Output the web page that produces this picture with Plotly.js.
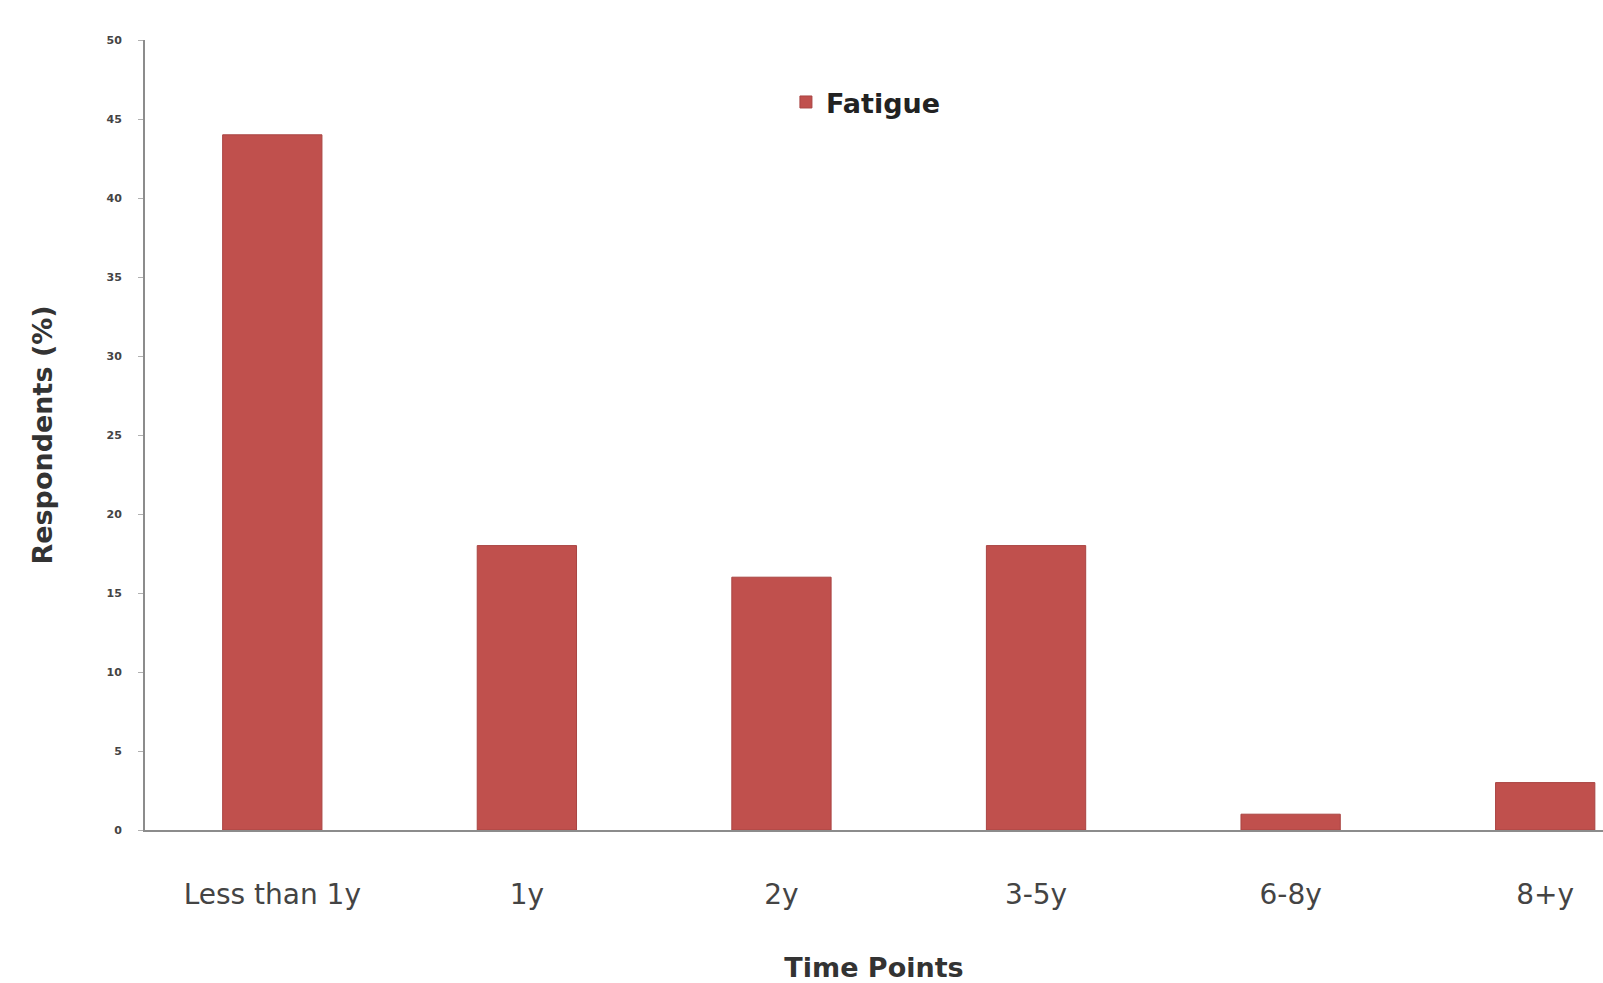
<!DOCTYPE html>
<html>
<head>
<meta charset="utf-8">
<script src="https://cdn.plot.ly/plotly-3.0.1.min.js"></script>
<style>
  html, body { margin: 0; padding: 0; background: #ffffff; }
  #chart { width: 1603px; height: 983px; }
</style>
</head>
<body>
<div id="chart"></div>
<script>
// Share of respondents reporting fatigue, by time point
const categories = ["Less than 1y", "1y", "2y", "3-5y", "6-8y", "8+y"];
const fatigue = [44, 18, 16, 18, 1, 3];
const yTicks = [0, 5, 10, 15, 20, 25, 30, 35, 40, 45, 50];

const barColor = "#C0504D";
const font = "'DejaVu Sans', 'Open Sans', sans-serif";

const traces = [{
  type: "bar",
  name: "Fatigue",
  x: categories,
  y: fatigue,
  width: 0.39,
  marker: { color: barColor, line: { color: "#A94442", width: 1 } },
  hoverinfo: "x+y"
}];

const layout = {
  width: 1603,
  height: 983,
  margin: { l: 145, r: 0, t: 40, b: 153 },
  paper_bgcolor: "#ffffff",
  plot_bgcolor: "#ffffff",
  font: { family: font, color: "#333333" },
  showlegend: true,
  legend: {
    x: 0.4396, y: 0.952, xanchor: "left", yanchor: "top",
    font: { family: font, size: 27, color: "#222222", weight: "bold" },
    bgcolor: "rgba(0,0,0,0)",
    itemwidth: 30
  },
  xaxis: {
    type: "category",
    range: [-0.5, 5.227],
    showline: true,
    linecolor: "#8c8c8c",
    linewidth: 2,
    showgrid: false,
    zeroline: false,
    ticks: "",
    ticklabelstandoff: 38,
    tickfont: { family: font, size: 28, color: "#444444" },
    title: {
      text: "Time Points",
      font: { family: font, size: 27, color: "#333333", weight: "bold" },
      standoff: 52
    }
  },
  yaxis: {
    range: [0, 50],
    tickvals: yTicks,
    ticktext: yTicks.map(String),
    showline: true,
    linecolor: "#8c8c8c",
    linewidth: 2,
    showgrid: false,
    zeroline: false,
    ticks: "outside",
    ticklen: 5,
    tickcolor: "#b0b0b0",
    ticklabelstandoff: 14,
    tickfont: { family: font, size: 11, color: "#444444", weight: "bold" },
    title: {
      text: "Respondents (%)",
      font: { family: font, size: 27, color: "#333333", weight: "bold" },
      standoff: 46
    }
  }
};

Plotly.newPlot("chart", traces, layout, { displayModeBar: false, staticPlot: true });
</script>
</body>
</html>
